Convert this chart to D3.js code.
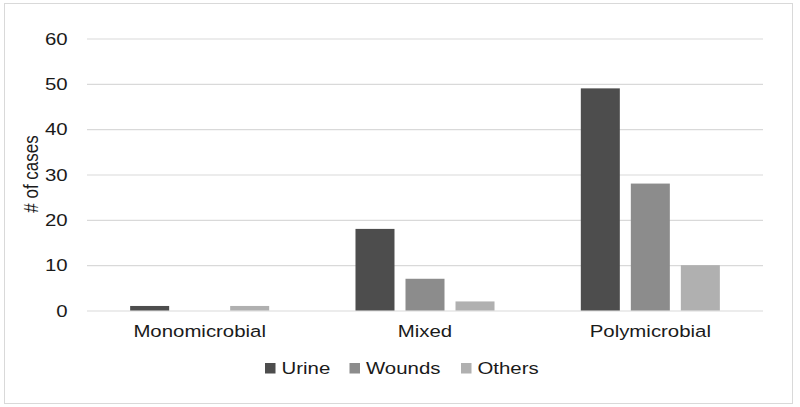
<!DOCTYPE html>
<html><head><meta charset="utf-8">
<script src="https://cdn.jsdelivr.net/npm/d3@7"></script>
<style>body{margin:0;background:#fff}svg{display:block}text{font-family:"Liberation Sans",Arial,sans-serif;fill:#1a1a1a}</style>
</head><body><svg id="c" width="800" height="407"></svg>
<script>
const categories = ["Monomicrobial", "Mixed", "Polymicrobial"];
const seriesNames = ["Urine", "Wounds", "Others"];
const urine = [1, 18, 49];
const wounds = [0, 7, 28];
const others = [1, 2, 10];
const yTicks = [0, 10, 20, 30, 40, 50, 60];
const colors = ["#4d4d4d", "#8c8c8c", "#b0b0b0"];
const seriesValues = [urine, wounds, others];

const svg = d3.select("#c");
const SX = 1.2; // horizontal text stretch in reference
const L = 87, R = 763, T = 38.5, B = 310.5;

svg.append("rect").attr("x", 4.5).attr("y", 3.5).attr("width", 788).attr("height", 400)
  .attr("fill", "#fff").attr("stroke", "#d9d9d9").attr("stroke-width", 1);

const x0 = d3.scaleBand().domain(categories).range([L, R]).paddingInner(0.383).paddingOuter(0.1915);
const x1 = d3.scaleBand().domain(seriesNames).range([0, x0.bandwidth()]).paddingInner(0.22).paddingOuter(0);
const y = d3.scaleLinear().domain([0, 60]).range([B, T]);

function stext(g, x, yy, txt, anchor, rot) {
  return g.append("text").attr("transform", `translate(${x},${yy}) scale(${SX},1)` + (rot ? ` rotate(${rot})` : ""))
    .attr("text-anchor", anchor).attr("font-size", 17).text(txt);
}

// gridlines via axis
const yAxis = d3.axisLeft(y).tickValues(yTicks).tickSize(-(R - L)).tickFormat("");
const ga = svg.append("g").attr("transform", `translate(${L},0)`).call(yAxis);
ga.select(".domain").remove();
ga.selectAll(".tick line").attr("stroke", "#d9d9d9").attr("stroke-width", 1.2);

// tick labels
yTicks.forEach(t => stext(svg, 67.7, y(t) + 6, String(t), "end"));

// bars
const groups = svg.append("g").selectAll("g").data(categories).join("g")
  .attr("transform", d => `translate(${x0(d)},0)`);
groups.selectAll("rect").data((d, i) => seriesNames.map((s, j) => ({ s, v: seriesValues[j][i], c: colors[j] })))
  .join("rect")
  .attr("x", d => x1(d.s)).attr("width", x1.bandwidth())
  .attr("y", d => y(d.v)).attr("height", d => B - y(d.v))
  .attr("fill", d => d.c);

// x labels
categories.forEach(c => stext(svg, x0(c) + x0.bandwidth() / 2, 337, c, "middle"));

// y title
stext(svg, 38, 174, "# of cases", "middle", -90);

// legend
const legX = [265, 349.5, 461];
seriesNames.forEach((s, i) => {
  svg.append("rect").attr("x", legX[i]).attr("y", 363).attr("width", 10.5).attr("height", 10.5).attr("fill", colors[i]);
  stext(svg, legX[i] + 16.5, 373.5, s, "start");
});
</script></body></html>
